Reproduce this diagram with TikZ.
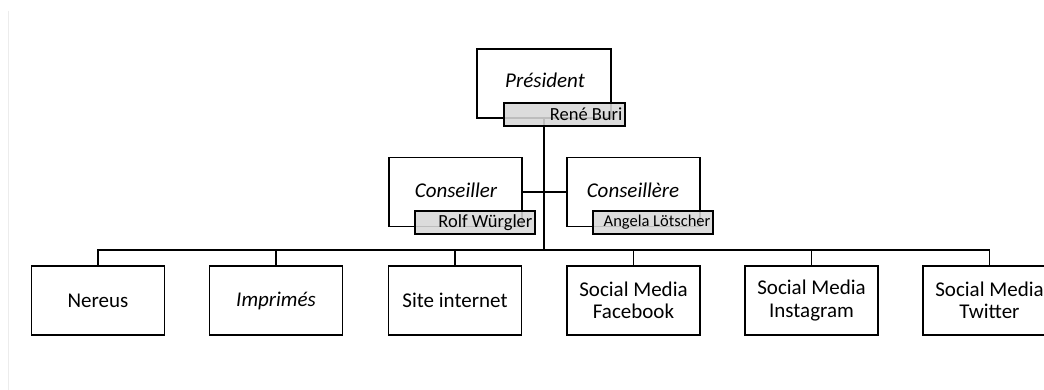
\documentclass[tikz,border=0pt]{standalone}
\usepackage{fontspec}
\setmainfont{Carlito}
\begin{document}
\begin{tikzpicture}[x=1pt,y=-1pt,
  box/.style={draw=black, line width=1.2pt, fill=white, rectangle, inner sep=0pt,
    minimum width=133pt, minimum height=69pt, align=center,
    font=\fontsize{21}{22.5}\selectfont},
  topbox/.style={box, minimum width=134pt},
  title/.style={font=\fontsize{21}{23}\selectfont\itshape, inner sep=0pt},
  namebox/.style={draw=black, line width=1.2pt, fill={rgb,255:red,216;green,216;blue,216}, fill opacity=0.88,
    rectangle, inner sep=0pt, minimum height=23pt},
  nametext/.style={anchor=east, inner xsep=3pt, inner ysep=0pt, font=\fontsize{18.5}{20}\selectfont},
  link/.style={draw=black, line width=1.1pt},
  trunk/.style={draw=black, line width=1.6pt}]
\useasboundingbox (0,0) rectangle (1044,390);
\clip (0,0) rectangle (1044,390);
\fill[white] (0,0) rectangle (1044,390);
\draw[line width=1.8pt, draw={rgb,255:red,236;green,236;blue,236}] (8.5,11) -- (8.5,390);

% top level
\node[topbox] (pres) at (544,83.5) {};
\node[title] (prest) at (545,80) {Président};
\node[box] (cons1) at (455.5,192) {};
\node[title] (cons1t) at (456,190) {Conseiller};
\node[box] (cons2) at (633.5,192) {};
\node[title] (cons2t) at (633,190) {Conseillère};

% bus
\coordinate (bus) at (544,250);
\draw[trunk] (pres.south) -- (bus);
\draw[link] (cons1.east) -- (cons2.west);

% bottom boxes
\node[box] (nereus) at (98,300.5) {Nereus};
\node[box] (impr) at (276,300.5) {\itshape Imprimés};
\node[box] (site) at (455,300.5) {Site internet};
\node[box] (fb) at (633.5,300.5) {Social Media\\Facebook};
\node[box] (insta) at (811.5,300.5) {Social Media\\Instagram};
\node[box] (tw) at (989.5,300.5) {Social Media\\Twitter};

\foreach \n in {nereus,impr,site,fb,insta,tw}
  \draw[link] (bus) -| (\n.north);

% name boxes
\node[namebox, minimum width=121pt] (rene) at (564.5,114.5) {};
\node[nametext] (renet) at (rene.east) {René Buri};
\node[namebox, minimum width=120pt] (rolf) at (475,222.5) {};
\node[nametext] (rolft) at (rolf.east) {Rolf Würgler};
\node[namebox, minimum width=120pt] (angela) at (653,222.5) {};
\node[nametext, font=\fontsize{16.5}{18}\selectfont] (angelat) at (angela.east) {Angela Lötscher};
\end{tikzpicture}
\end{document}
